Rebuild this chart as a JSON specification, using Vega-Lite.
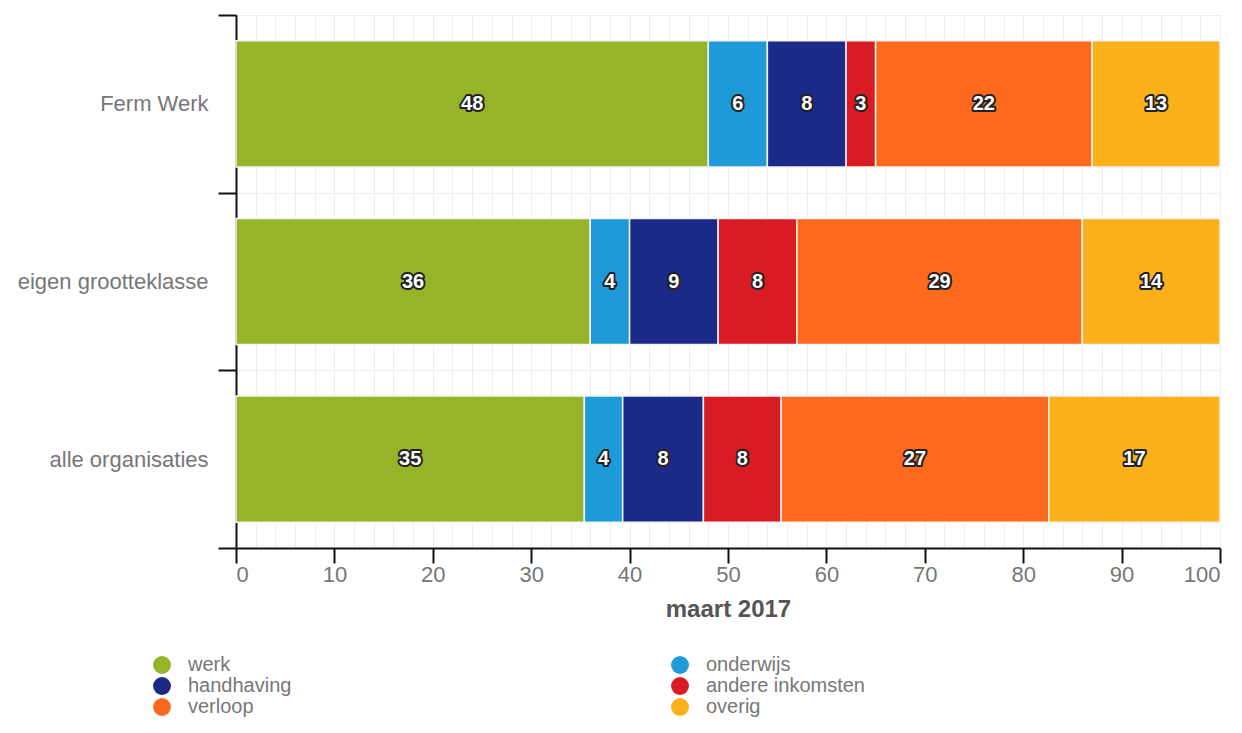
{
  "$schema": "https://vega.github.io/schema/vega-lite/v6.json",
  "width": 984,
  "height": 533,
  "autosize": {"type": "none"},
  "padding": {"left": 236, "top": 15, "right": 22, "bottom": 185},
  "background": "white",
  "config": {
    "view": {"stroke": null},
    "font": "Liberation Sans"
  },
  "data": {
    "values": [
      {"groep": "Ferm Werk", "reden": "werk", "waarde": 48},
      {"groep": "Ferm Werk", "reden": "onderwijs", "waarde": 6},
      {"groep": "Ferm Werk", "reden": "handhaving", "waarde": 8},
      {"groep": "Ferm Werk", "reden": "andere inkomsten", "waarde": 3},
      {"groep": "Ferm Werk", "reden": "verloop", "waarde": 22},
      {"groep": "Ferm Werk", "reden": "overig", "waarde": 13},
      {"groep": "eigen grootteklasse", "reden": "werk", "waarde": 36},
      {"groep": "eigen grootteklasse", "reden": "onderwijs", "waarde": 4},
      {"groep": "eigen grootteklasse", "reden": "handhaving", "waarde": 9},
      {"groep": "eigen grootteklasse", "reden": "andere inkomsten", "waarde": 8},
      {"groep": "eigen grootteklasse", "reden": "verloop", "waarde": 29},
      {"groep": "eigen grootteklasse", "reden": "overig", "waarde": 14},
      {"groep": "alle organisaties", "reden": "werk", "waarde": 35.4},
      {"groep": "alle organisaties", "reden": "onderwijs", "waarde": 3.9},
      {"groep": "alle organisaties", "reden": "handhaving", "waarde": 8.2},
      {"groep": "alle organisaties", "reden": "andere inkomsten", "waarde": 7.9},
      {"groep": "alle organisaties", "reden": "verloop", "waarde": 27.2},
      {"groep": "alle organisaties", "reden": "overig", "waarde": 17.4}
    ]
  },
  "transform": [
    {"stack": "waarde", "groupby": ["groep"], "as": ["x0", "x1"]},
    {"calculate": "(datum.x0 + datum.x1) / 2", "as": "xmid"}
  ],
  "encoding": {
    "y": {
      "field": "groep",
      "type": "nominal",
      "sort": ["Ferm Werk", "eigen grootteklasse", "alle organisaties"],
      "scale": {"paddingInner": 0, "paddingOuter": 0},
      "axis": {
        "title": null,
        "domainColor": "#111",
        "domainWidth": 2,
        "tickBand": "extent",
        "tickSize": 18,
        "tickColor": "#111",
        "tickWidth": 2,
        "labelColor": "#777",
        "labelFontSize": 22,
        "labelPadding": 10,
        "labelLimit": 400,
        "grid": true,
        "gridColor": "#eeeeee",
        "gridWidth": 1
      }
    }
  },
  "layer": [
    {
      "mark": {"type": "bar", "height": {"band": 0.71}, "stroke": "#f4f4f4", "strokeWidth": 1.5},
      "encoding": {
        "x": {
          "field": "x0",
          "type": "quantitative",
          "scale": {"domain": [0, 100], "nice": false},
          "axis": {
            "orient": "bottom",
            "values": [0, 10, 20, 30, 40, 50, 60, 70, 80, 90, 100],
            "title": "maart 2017",
            "titleFontSize": 24,
            "titleFontWeight": "bold",
            "titleColor": "#555",
            "titlePadding": 12,
            "domainColor": "#111",
            "domainWidth": 2,
            "tickColor": "#111",
            "tickWidth": 2,
            "tickSize": 15,
            "labelColor": "#777",
            "labelFontSize": 22,
            "labelPadding": 1,
            "grid": false
          }
        },
        "x2": {"field": "x1"},
        "color": {
          "field": "reden",
          "type": "nominal",
          "scale": {
            "domain": ["werk", "onderwijs", "handhaving", "andere inkomsten", "verloop", "overig"],
            "range": ["#95b42a", "#1e9ad8", "#1b2a87", "#d91b24", "#fd6a1e", "#fcb11a"]
          },
          "legend": {
            "title": null,
            "orient": "none",
            "legendX": -84,
            "legendY": 640,
            "direction": "horizontal",
            "columns": 2,
            "columnPadding": 378,
            "rowPadding": 1,
            "symbolType": "circle",
            "symbolSize": 320,
            "symbolStrokeWidth": 0,
            "labelFontSize": 20,
            "labelColor": "#777",
            "labelOffset": 16,
            "labelLimit": 400
          }
        }
      }
    },
    {
      "mark": {"type": "text", "fontSize": 20, "fontWeight": "bold", "stroke": "#222", "strokeWidth": 4, "strokeJoin": "round", "fill": "#222"},
      "encoding": {
        "x": {
          "field": "xmid",
          "type": "quantitative",
          "axis": {
            "orient": "top",
            "values": [0, 2, 4, 6, 8, 10, 12, 14, 16, 18, 20, 22, 24, 26, 28, 30, 32, 34, 36, 38, 40, 42, 44, 46, 48, 50, 52, 54, 56, 58, 60, 62, 64, 66, 68, 70, 72, 74, 76, 78, 80, 82, 84, 86, 88, 90, 92, 94, 96, 98, 100],
            "title": null,
            "labels": false,
            "ticks": false,
            "domain": false,
            "grid": true,
            "gridColor": "#eeeeee",
            "gridWidth": 1
          }
        },
        "text": {"field": "waarde", "type": "quantitative", "format": ".0f"}
      }
    },
    {
      "mark": {"type": "text", "fontSize": 20, "fontWeight": "bold", "fill": "#ffffff"},
      "encoding": {
        "x": {"field": "xmid", "type": "quantitative", "axis": null},
        "text": {"field": "waarde", "type": "quantitative", "format": ".0f"}
      }
    }
  ],
  "resolve": {"axis": {"x": "independent"}}
}
